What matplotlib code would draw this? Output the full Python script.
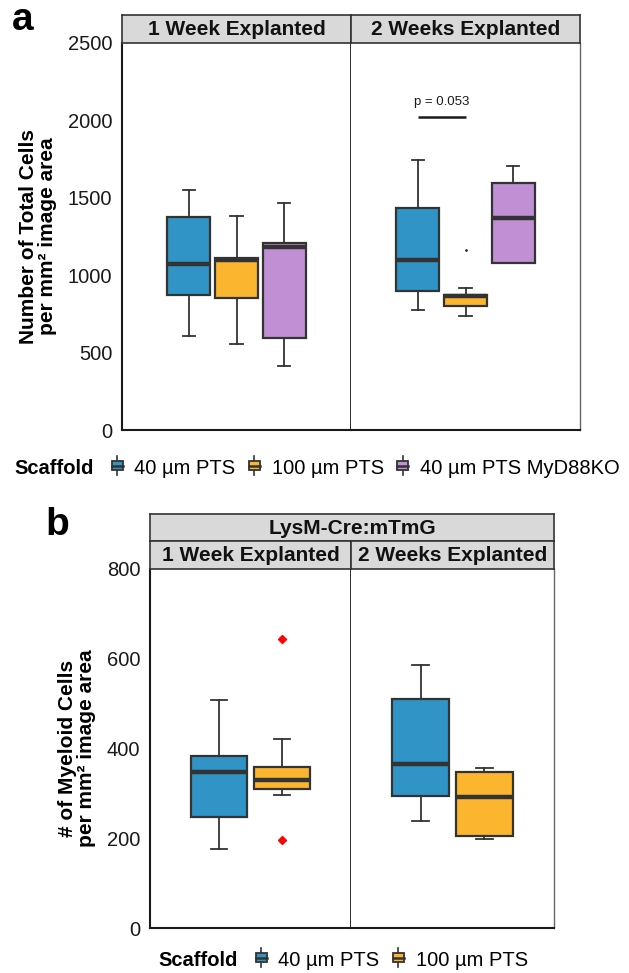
import matplotlib
matplotlib.use("Agg")
from matplotlib import pyplot as plt
from matplotlib.patches import Rectangle
from matplotlib.lines import Line2D
from matplotlib.legend_handler import HandlerBase
from matplotlib.offsetbox import HPacker

plt.rcParams['font.family'] = ['Liberation Sans', 'DejaVu Sans']

# ---- data ----
scaffolds_a = ['40 µm PTS', '100 µm PTS', '40 µm PTS MyD88KO']
colors_a = ['#3094C6', '#FCB52F', '#C08FD4']
facets = ['1 Week Explanted', '2 Weeks Explanted']

# [whislo, q1, med, q3, whishi]
total_1wk = [[607, 871, 1071, 1379, 1549],
             [557, 854, 1097, 1108, 1381],
             [415, 596, 1179, 1207, 1465]]
total_2wk = [[777, 899, 1097, 1437, 1747],
             [734, 802, 867, 871, 919],
             [1076, 1076, 1370, 1596, 1708]]
total_fliers = [[[], [], []], [[], [1166], []]]
p_label = 'p = 0.053'
p_y = 2022

scaffolds_b = ['40 µm PTS', '100 µm PTS']
colors_b = ['#3094C6', '#FCB52F']
myeloid_1wk = [[175, 247, 348, 383, 508],
               [297, 309, 330, 359, 422]]
myeloid_2wk = [[238, 294, 365, 510, 585],
               [198, 206, 293, 348, 357]]
myeloid_fliers = [[[], [645, 195]], [[], []]]

W, H = 629, 973
fig = plt.figure(figsize=(W / 100, H / 100), dpi=100)

EDGE = '#333333'
STRIP = '#D9D9D9'


def px_axes(x0, y0, x1, y1, **kw):
    return fig.add_axes([x0 / W, 1 - y1 / H, (x1 - x0) / W, (y1 - y0) / H], **kw)


def strip(x0, y0, x1, y1, label):
    ax = px_axes(x0, y0, x1, y1)
    ax.set_xticks([])
    ax.set_yticks([])
    ax.set_facecolor(STRIP)
    for s in ax.spines.values():
        s.set_color(EDGE)
        s.set_linewidth(1.2)
    ax.text(0.5, 0.47, label, ha='center', va='center', fontsize=15,
            fontweight='bold', color='#111111', transform=ax.transAxes)
    return ax


def draw_boxes(ax, groups, fliers, colors, n, capw, flier_style):
    slot = 0.75 / n
    pos = [1 + (i - (n - 1) / 2) * slot for i in range(n)]
    stats = []
    for g, f in zip(groups, fliers):
        stats.append(dict(whislo=g[0], q1=g[1], med=g[2], q3=g[3], whishi=g[4], fliers=f))
    ax.bxp(stats, positions=pos, widths=slot * 0.9, patch_artist=True,
           capwidths=capw, showfliers=True,
           boxprops=dict(edgecolor=EDGE, linewidth=1.6),
           medianprops=dict(color=EDGE, linewidth=3.2, solid_capstyle='butt'),
           whiskerprops=dict(color=EDGE, linewidth=1.3),
           capprops=dict(color=EDGE, linewidth=1.3),
           flierprops=flier_style)
    for patch, c in zip(ax.patches, colors):
        patch.set_facecolor(c)
    ax.set_xlim(0.4, 1.6)
    ax.set_xticks([])
    return pos


def style_axes(ax, left):
    ax.spines['top'].set_visible(False)
    ax.spines['bottom'].set_color('#1a1a1a')
    ax.spines['bottom'].set_linewidth(1.5)
    if left:
        ax.spines['left'].set_color('#1a1a1a')
        ax.spines['left'].set_linewidth(1.5)
        ax.spines['right'].set_color('#1a1a1a')
        ax.spines['right'].set_linewidth(1.3)
        ax.tick_params(axis='y', length=0, pad=7, labelsize=14.5, colors='#1a1a1a')
    else:
        ax.spines['left'].set_visible(False)
        ax.spines['right'].set_color('#666666')
        ax.spines['right'].set_linewidth(1.0)
        ax.tick_params(axis='y', length=0, labelleft=False)


class BoxKey(HandlerBase):
    def create_artists(self, legend, orig, xd, yd, width, height, fontsize, trans):
        cx = xd + width / 2
        bw = width * 0.78
        bh = height * 0.62
        by = yd + (height - bh) / 2
        whisk = Line2D([cx, cx], [yd - height * 0.15, yd + height * 1.15],
                       color=EDGE, lw=1.2, transform=trans)
        box = Rectangle((cx - bw / 2, by), bw, bh, facecolor=orig.get_facecolor(),
                        edgecolor=EDGE, lw=1.3, transform=trans)
        med = Line2D([cx - bw / 2, cx + bw / 2], [yd + height / 2] * 2,
                     color=EDGE, lw=1.8, transform=trans)
        return [whisk, box, med]


def legend(x, y, labels, colors):
    handles = [Rectangle((0, 0), 1, 1, facecolor=c) for c in colors]
    leg = fig.legend(handles, labels, loc='center left',
                     bbox_to_anchor=(x / W, 1 - y / H), ncol=len(labels),
                     frameon=False, handler_map={Rectangle: BoxKey()},
                     handlelength=0.7, handleheight=0.75, handletextpad=0.5,
                     columnspacing=0.6, fontsize=14.5, title='Scaffold',
                     title_fontproperties={'weight': 'bold', 'size': 14.5},
                     borderpad=0, borderaxespad=0)
    # put the title inline with the entries
    title_box = leg._legend_title_box
    handle_box = leg._legend_handle_box
    leg._legend_box._children = [HPacker(pad=0, sep=12, align='center',
                                         children=[title_box, handle_box])]
    return leg


# ---------------- panel a ----------------
ya0, ya1 = 43, 430
axa1 = px_axes(122, ya0, 351, ya1)
axa2 = px_axes(351, ya0, 580, ya1, sharey=axa1)
tiny = dict(marker='o', markersize=1.0, markerfacecolor=EDGE, markeredgecolor=EDGE)
draw_boxes(axa1, total_1wk, total_fliers[0], colors_a, 3, 0.065, tiny)
pos2 = draw_boxes(axa2, total_2wk, total_fliers[1], colors_a, 3, 0.065, tiny)
axa1.set_ylim(0, 2500)
axa1.set_yticks(range(0, 2501, 500))
style_axes(axa1, True)
style_axes(axa2, False)
axa2.plot([pos2[0], pos2[1]], [p_y, p_y], color='#1a1a1a', lw=1.8, solid_capstyle='butt')
axa2.text((pos2[0] + pos2[1]) / 2, p_y + 55, p_label, ha='center', va='bottom', fontsize=9.5,
          color='#1a1a1a')
strip(122, 15, 351, ya0, facets[0])
strip(351, 15, 580, ya0, facets[1])
axa1.set_ylabel('Number of Total Cells\nper mm² image area', fontsize=15,
                fontweight='bold', labelpad=8, linespacing=0.95)
fig.text(12 / W, 1 - 20 / H, 'a', fontsize=28, fontweight='bold', va='center', ha='left')
legend(14, 468, scaffolds_a, colors_a)

# ---------------- panel b ----------------
yb0, yb1 = 569, 928
axb1 = px_axes(150, yb0, 351, yb1)
axb2 = px_axes(351, yb0, 554, yb1, sharey=axb1)
red = dict(marker='D', markersize=4.5, markerfacecolor='red', markeredgecolor='red')
draw_boxes(axb1, myeloid_1wk, myeloid_fliers[0], colors_b, 2, 0.1, red)
draw_boxes(axb2, myeloid_2wk, myeloid_fliers[1], colors_b, 2, 0.1, red)
axb1.set_ylim(0, 800)
axb1.set_yticks(range(0, 801, 200))
style_axes(axb1, True)
style_axes(axb2, False)
strip(150, 514, 554, 541, 'LysM-Cre:mTmG')
strip(150, 541, 351, yb0, facets[0])
strip(351, 541, 554, yb0, facets[1])
axb1.set_ylabel('# of Myeloid Cells\nper mm² image area', fontsize=15,
                fontweight='bold', labelpad=8, linespacing=0.95)
fig.text(45 / W, 1 - 525 / H, 'b', fontsize=28, fontweight='bold', va='center', ha='left')
legend(158, 960, scaffolds_b, colors_b)

fig.savefig('out.png', dpi=100)
